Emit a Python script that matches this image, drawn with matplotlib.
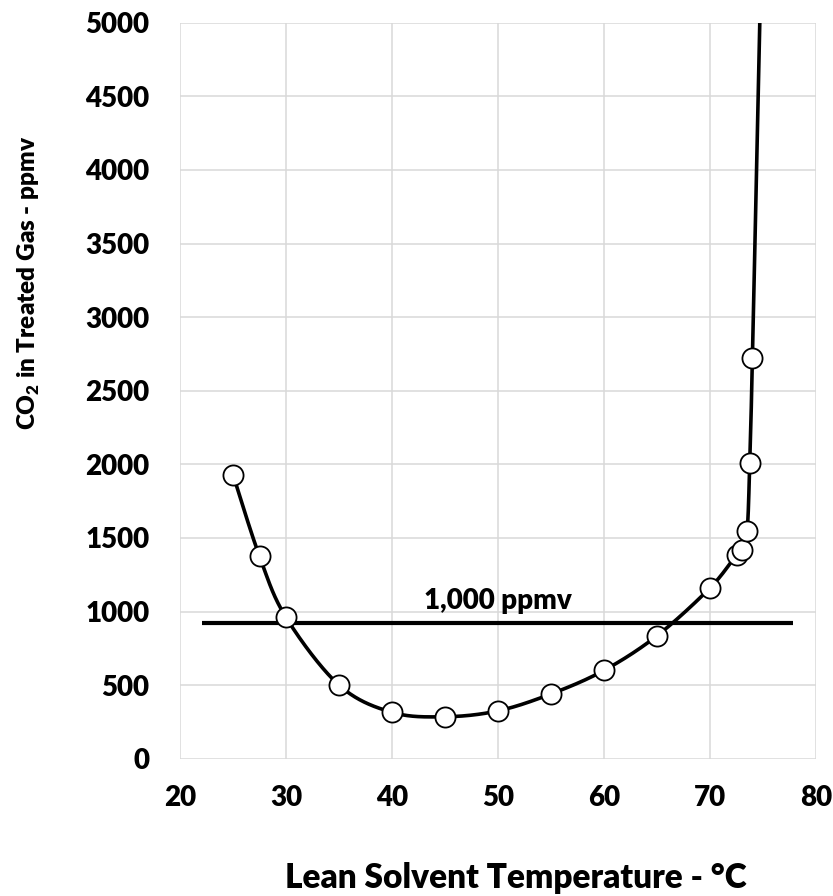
import numpy as np
import matplotlib
matplotlib.use("Agg")
import matplotlib.pyplot as plt

plt.rcParams['font.family'] = ['Lato', 'DejaVu Sans']
plt.rcParams['mathtext.fontset'] = 'custom'
plt.rcParams['mathtext.rm'] = 'Lato'
plt.rcParams['mathtext.bf'] = 'Lato:heavy'

WEIGHT = 'heavy'

# Data
temp_c = [25, 27.5, 30, 35, 40, 45, 50, 55, 60, 65, 70, 72.5, 73, 73.5, 73.75, 74.0]
co2_ppmv = [1930, 1375, 960, 500, 315, 285, 325, 440, 600, 835, 1160, 1385, 1420, 1545, 2010, 2720]
# continuation of the smoothed curve beyond the top of the axis
tail_temp = [75.0]
tail_co2 = [6000]

spec_level = 925
spec_x = [22.1, 77.8]
spec_label = "1,000 ppmv"

x_ticks = [20, 30, 40, 50, 60, 70, 80]
y_ticks = [0, 500, 1000, 1500, 2000, 2500, 3000, 3500, 4000, 4500, 5000]

W, H = 833, 896
fig = plt.figure(figsize=(W / 100, H / 100), dpi=100)
ax = fig.add_axes([180 / W, 1 - 758.7 / H, (816 - 180) / W, (758.7 - 22.7) / H])
ax.set_xlim(20, 80)
ax.set_ylim(0, 5000)
ax.set_xticks(x_ticks)
ax.set_yticks(y_ticks)
ax.grid(True, color='#d9d9d9', linewidth=1.1)
ax.set_axisbelow(True)
for s in ax.spines.values():
    s.set_visible(False)
ax.tick_params(length=0, labelsize=20)
ax.tick_params(axis='y', pad=22)
ax.tick_params(axis='x', pad=28.3)
for lab in ax.get_xticklabels():
    lab.set_fontweight(WEIGHT)
    lab.set_verticalalignment('center')
for lab in ax.get_yticklabels():
    lab.set_fontweight(WEIGHT)

# Smoothed (Catmull-Rom / Bezier) curve in display space
fig.canvas.draw()
xs = np.array(temp_c + tail_temp, dtype=float)
ys = np.array(co2_ppmv + tail_co2, dtype=float)
P = ax.transData.transform(np.column_stack([xs, ys]))
Pe = np.vstack([P[0], P, P[-1]])
t = np.linspace(0, 1, 60)[:, None]
curve = []
for i in range(len(P) - 1):
    p0, p1, p2, p3 = Pe[i], Pe[i + 1], Pe[i + 2], Pe[i + 3]
    b1 = p1 + (p2 - p0) / 6
    b2 = p2 - (p3 - p1) / 6
    seg = ((1 - t) ** 3) * p1 + 3 * ((1 - t) ** 2) * t * b1 + 3 * (1 - t) * t ** 2 * b2 + t ** 3 * p2
    curve.append(seg)
curve = np.vstack(curve)
cd = ax.transData.inverted().transform(curve)
ax.plot(cd[:, 0], cd[:, 1], color='black', linewidth=2.6, zorder=3, solid_capstyle='butt')

ax.plot(temp_c, co2_ppmv, linestyle='none', marker='o', markersize=14.5,
        markerfacecolor='white', markeredgecolor='black', markeredgewidth=1.3, zorder=4)

ax.plot(spec_x, [spec_level, spec_level], color='black', linewidth=3.0, zorder=2,
        solid_capstyle='butt')
ax.text(50, spec_level + 60, spec_label, ha='center', va='bottom', fontsize=20,
        fontweight=WEIGHT, zorder=5)

fig.text(516 / W, 1 - 878 / H, "Lean Solvent Temperature - °C", ha='center', va='center',
         fontsize=24, fontweight=WEIGHT)
fig.text(29 / W, 1 - 283 / H, r"CO$_\mathbf{2}$ in Treated Gas - ppmv", ha='center', va='center',
         rotation=90, fontsize=17.5, fontweight=WEIGHT)

fig.savefig("out.png", dpi=100)
